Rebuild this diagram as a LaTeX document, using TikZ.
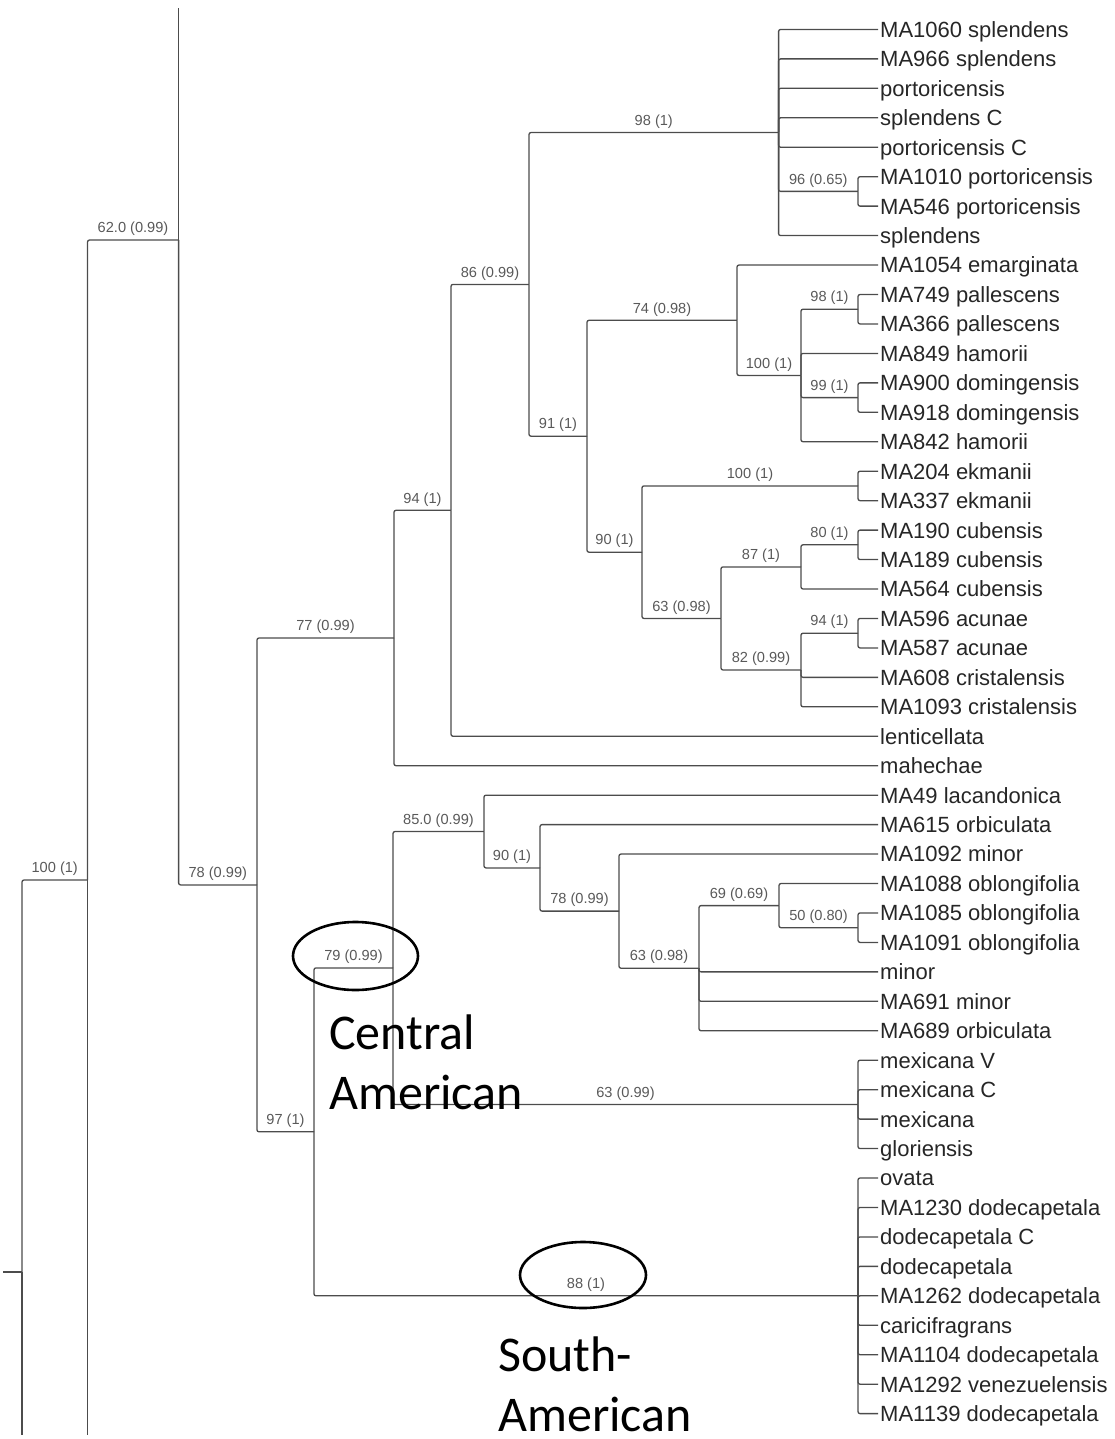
\documentclass[tikz,border=0pt]{standalone}
\usepackage{fontspec}
\setmainfont{Liberation Sans}
\newfontfamily\calfont{Carlito}
\usepackage{tikz}
\newcommand\leaffont{\fontsize{22}{26}\selectfont}
\newcommand\supfont{\fontsize{14.6}{17}\selectfont}
\newcommand\regionfont{\calfont\fontsize{50}{60}\selectfont}
\definecolor{treegray}{gray}{0.30}
\definecolor{supgray}{gray}{0.35}
\definecolor{leafgray}{gray}{0.15}
\tikzset{br/.style={draw=treegray, line width=1.3pt, rounded corners=2pt},
  bl/.style={pos=0.75, above, font=\supfont, text=supgray, inner sep=3.6pt},
  leaf/.style={anchor=west, inner sep=2pt, font=\leaffont, text=leafgray, text height=15.8pt, text depth=0pt},
  ring/.style={draw=black, line width=2.6pt},
  region/.style={anchor=base west, align=left, font=\regionfont, inner sep=0pt}
}

\begin{document}
\begin{tikzpicture}[x=1pt,y=-1pt]
                \useasboundingbox (0,0) rectangle (1114,1439);

                % Leaves
                \foreach \name [count=\i] in {MA1060 splendens, MA966 splendens, portoricensis, splendens C,
                    portoricensis C, MA1010 portoricensis, MA546 portoricensis, splendens, MA1054 emarginata,
                    MA749 pallescens, MA366 pallescens, MA849 hamorii, MA900 domingensis, MA918 domingensis,
                    MA842 hamorii, MA204 ekmanii, MA337 ekmanii, MA190 cubensis, MA189 cubensis, MA564 cubensis,
                    MA596 acunae, MA587 acunae, MA608 cristalensis, MA1093 cristalensis, lenticellata, mahechae,
                    MA49 lacandonica, MA615 orbiculata, MA1092 minor, MA1088 oblongifolia, MA1085 oblongifolia,
                    MA1091 oblongifolia, minor, MA691 minor, MA689 orbiculata, mexicana V, mexicana C, mexicana,
                    gloriensis, ovata, MA1230 dodecapetala, dodecapetala C, dodecapetala, MA1262 dodecapetala,
                    caricifragrans, MA1104 dodecapetala, MA1292 venezuelensis, MA1139 dodecapetala}
                    \node[leaf] (l\i) at (878,{29.45*\i}) {\name};

                % Internal nodes
                \coordinate (stem) at (3,1272);
                \coordinate (root) at (22,1272);
                \coordinate (rootend) at (22,1435);
                \coordinate (n100) at (87.5,880);
                \coordinate (n100end) at (87.5,1435);
                \coordinate (n62) at (178.6,240);
                \coordinate (n62top) at (178.6,8);
                \coordinate (n78) at (257,884.9);
                \coordinate (n77) at (394,638);
                \coordinate (n94) at (451,510.3);
                \coordinate (n86) at (529,284.4);
                \coordinate (n98) at (778.6,132.5);
                \coordinate (n96) at (858,191.4);
                \coordinate (n91) at (587,436.2);
                \coordinate (n74) at (737,320.3);
                \coordinate (n100b) at (801,375.5);
                \coordinate (n98b) at (858,309.2);
                \coordinate (n99) at (858,397.6);
                \coordinate (n90a) at (642,552.2);
                \coordinate (n100c) at (858,485.9);
                \coordinate (n63a) at (721,618.5);
                \coordinate (n87) at (801,566.9);
                \coordinate (n80) at (858,544.8);
                \coordinate (n82) at (801,670);
                \coordinate (n94b) at (858,633.2);
                \coordinate (n97) at (314,1131.8);
                \coordinate (n79) at (393,967.9);
                \coordinate (n85) at (484,831.5);
                \coordinate (n90b) at (540,867.9);
                \coordinate (n78b) at (619,911.1);
                \coordinate (n63b) at (699,968.2);
                \coordinate (n69) at (779,905.6);
                \coordinate (n50) at (858,927.7);
                \coordinate (n63c) at (858,1104.4);
                \coordinate (n88) at (858,1295.8);

                % Backbone
                \draw[br] (stem) -- (root);
                \draw[br] (root) |- (n100) node[bl] {100 (1)};
                \draw[br] (root) -- (rootend);
                \draw[br] (n100) |- (n62) node[bl] {62.0 (0.99)};
                \draw[br] (n100) -- (n100end);
                \draw[br] (n62) -- (n62top);
                \draw[br] (n62) |- (n78) node[bl] {78 (0.99)};
                \draw[br] (n78) |- (n77) node[bl] {77 (0.99)};
                \draw[br] (n78) |- (n97) node[bl] {97 (1)};

                % Antillean clade
                \draw[br] (n77) |- (n94) node[bl] {94 (1)};
                \draw[br] (n77) |- (l26.west);
                \draw[br] (n94) |- (n86) node[bl] {86 (0.99)};
                \draw[br] (n94) |- (l25.west);
                \draw[br] (n86) |- (n98) node[bl] {98 (1)};
                \draw[br] (n86) |- (n91) node[bl] {91 (1)};
                \foreach \i in {1,...,5,8} \draw[br] (n98) |- (l\i.west);
                \draw[br] (n98) |- (n96) node[bl] {96 (0.65)};
                \foreach \i in {6,7} \draw[br] (n96) |- (l\i.west);
                \draw[br] (n91) |- (n74) node[bl] {74 (0.98)};
                \draw[br] (n91) |- (n90a) node[bl] {90 (1)};
                \draw[br] (n74) |- (l9.west);
                \draw[br] (n74) |- (n100b) node[bl] {100 (1)};
                \draw[br] (n100b) |- (n98b) node[bl] {98 (1)};
                \draw[br] (n100b) |- (l12.west);
                \draw[br] (n100b) |- (n99) node[bl] {99 (1)};
                \draw[br] (n100b) |- (l15.west);
                \foreach \i in {10,11} \draw[br] (n98b) |- (l\i.west);
                \foreach \i in {13,14} \draw[br] (n99) |- (l\i.west);
                \draw[br] (n90a) |- (n100c) node[bl] {100 (1)};
                \draw[br] (n90a) |- (n63a) node[bl] {63 (0.98)};
                \foreach \i in {16,17} \draw[br] (n100c) |- (l\i.west);
                \draw[br] (n63a) |- (n87) node[bl] {87 (1)};
                \draw[br] (n63a) |- (n82) node[bl] {82 (0.99)};
                \draw[br] (n87) |- (n80) node[bl] {80 (1)};
                \draw[br] (n87) |- (l20.west);
                \foreach \i in {18,19} \draw[br] (n80) |- (l\i.west);
                \draw[br] (n82) |- (n94b) node[bl] {94 (1)};
                \foreach \i in {23,24} \draw[br] (n82) |- (l\i.west);
                \foreach \i in {21,22} \draw[br] (n94b) |- (l\i.west);

                % Mainland clade
                \draw[br] (n97) |- (n79) node[bl] {79 (0.99)};
                \draw[br] (n97) |- (n88) node[bl] {88 (1)};
                \draw[br] (n79) |- (n85) node[bl] {85.0 (0.99)};
                \draw[br] (n79) |- (n63c) node[bl] {63 (0.99)};
                \draw[br] (n85) |- (l27.west);
                \draw[br] (n85) |- (n90b) node[bl] {90 (1)};
                \draw[br] (n90b) |- (l28.west);
                \draw[br] (n90b) |- (n78b) node[bl] {78 (0.99)};
                \draw[br] (n78b) |- (l29.west);
                \draw[br] (n78b) |- (n63b) node[bl] {63 (0.98)};
                \draw[br] (n63b) |- (n69) node[bl] {69 (0.69)};
                \foreach \i in {33,34,35} \draw[br] (n63b) |- (l\i.west);
                \draw[br] (n69) |- (l30.west);
                \draw[br] (n69) |- (n50) node[bl] {50 (0.80)};
                \foreach \i in {31,32} \draw[br] (n50) |- (l\i.west);
                \foreach \i in {36,...,39} \draw[br] (n63c) |- (l\i.west);
                \foreach \i in {40,...,48} \draw[br] (n88) |- (l\i.west);

                % Highlights
                \coordinate (ring79) at (355.5,956);
                \coordinate (ring88) at (583,1275);
                \draw[ring] (ring79) ellipse [x radius=62.5pt, y radius=34pt];
                \draw[ring] (ring88) ellipse [x radius=63pt, y radius=33pt];
                \node[region] (central) at (329,1109) {Central\\American};
                \node[region] (south) at (498,1431) {South-\\American};
            \end{tikzpicture}
\end{document}
